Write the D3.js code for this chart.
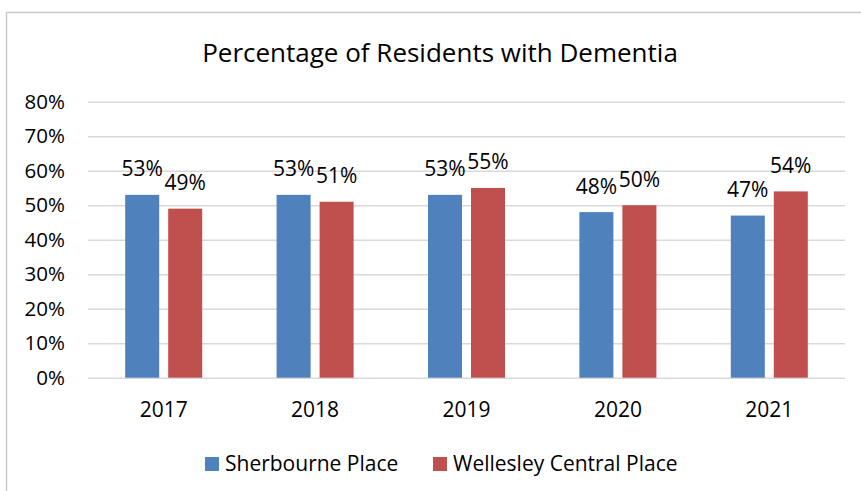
<!DOCTYPE html>
<html>
<head>
<meta charset="utf-8">
<script src="https://cdn.jsdelivr.net/npm/d3@7"></script>
<style>
  body { margin: 0; background: #fff; }
  svg text { font-family: "Open Sans", sans-serif; fill: #000; }
</style>
</head>
<body>
<div id="vis"></div>
<script>
// data
var years = ["2017", "2018", "2019", "2020", "2021"];
var seriesNames = ["Sherbourne Place", "Wellesley Central Place"];
var sherbourne = [0.53, 0.53, 0.53, 0.48, 0.47];
var wellesley = [0.49, 0.51, 0.55, 0.50, 0.54];
var yTicks = [0, 0.1, 0.2, 0.3, 0.4, 0.5, 0.6, 0.7, 0.8];
var colors = ["#4f81bd", "#c0504d"];

// SVG geometry
var width = 861;
var height = 491;
var plot = { left: 88, right: 845, top: 101.7, bottom: 377.7 };

var svg = d3.select("#vis")
  .append("svg")
  .attr("width", width)
  .attr("height", height);

// chart border (left + top only visible)
svg.append("rect")
  .attr("x", 6.5)
  .attr("y", 12.5)
  .attr("width", 900)
  .attr("height", 600)
  .attr("fill", "none")
  .attr("stroke", "#c9c9c9")
  .attr("stroke-width", 1.5);

var x0 = d3.scaleBand()
  .domain(years)
  .range([plot.left, plot.right])
  .padding(0);

var x1 = d3.scaleBand()
  .domain(seriesNames)
  .range([0, x0.bandwidth()])
  .paddingInner(0.209)
  .paddingOuter(0.865);

var y = d3.scaleLinear()
  .domain([0, 0.8])
  .range([plot.bottom, plot.top]);

// title
svg.append("text")
  .attr("x", 440)
  .attr("y", 62)
  .attr("text-anchor", "middle")
  .style("font-size", "26px")
  .text("Percentage of Residents with Dementia");

// y axis + gridlines
var yAxis = svg.append("g")
  .attr("transform", "translate(" + plot.left + ",0)")
  .call(d3.axisLeft(y)
    .tickValues(yTicks)
    .tickFormat(d3.format(".0%"))
    .tickSize(-(plot.right - plot.left))
    .tickPadding(23));

yAxis.select(".domain").remove();
yAxis.selectAll(".tick line")
  .attr("stroke", "#d9d9d9")
  .attr("stroke-width", 1.5);
yAxis.selectAll(".tick text")
  .attr("dy", "0.33em")
  .style("font-size", "20.5px")
  .style("font-family", "Open Sans, sans-serif");

// x axis labels
var xAxis = svg.append("g")
  .attr("transform", "translate(0," + plot.bottom + ")")
  .call(d3.axisBottom(x0).tickSize(0).tickPadding(24));

xAxis.select(".domain").remove();
xAxis.selectAll(".tick text")
  .style("font-size", "21px")
  .style("font-family", "Open Sans, sans-serif");

// bars
var rows = years.map(function(yr, i) {
  return { year: yr, values: [sherbourne[i], wellesley[i]] };
});

var groups = svg.selectAll(".year")
  .data(rows)
  .enter().append("g")
  .attr("class", "year")
  .attr("transform", function(d) { return "translate(" + x0(d.year) + ",0)"; });

groups.selectAll("rect")
  .data(function(d) {
    return d.values.map(function(v, j) { return { name: seriesNames[j], value: v, idx: j }; });
  })
  .enter().append("rect")
  .attr("x", function(d) { return x1(d.name); })
  .attr("y", function(d) { return y(d.value); })
  .attr("width", x1.bandwidth())
  .attr("height", function(d) { return y(0) - y(d.value); })
  .attr("fill", function(d) { return colors[d.idx]; });

groups.selectAll(".lbl")
  .data(function(d) {
    return d.values.map(function(v, j) { return { name: seriesNames[j], value: v }; });
  })
  .enter().append("text")
  .attr("class", "lbl")
  .attr("x", function(d) { return x1(d.name) + x1.bandwidth() / 2; })
  .attr("y", function(d) { return y(d.value) - 18.5; })
  .attr("text-anchor", "middle")
  .style("font-size", "21px")
  .text(function(d) { return d3.format(".0%")(d.value); });

// legend
var legendX = [205, 433];
var legend = svg.selectAll(".legend")
  .data(seriesNames)
  .enter().append("g")
  .attr("class", "legend")
  .attr("transform", function(d, i) { return "translate(" + legendX[i] + ",457)"; });

legend.append("rect")
  .attr("width", 14)
  .attr("height", 14)
  .attr("fill", function(d, i) { return colors[i]; });

legend.append("text")
  .attr("x", 20)
  .attr("y", 13.5)
  .style("font-size", "21px")
  .text(function(d) { return d; });
</script>
</body>
</html>
